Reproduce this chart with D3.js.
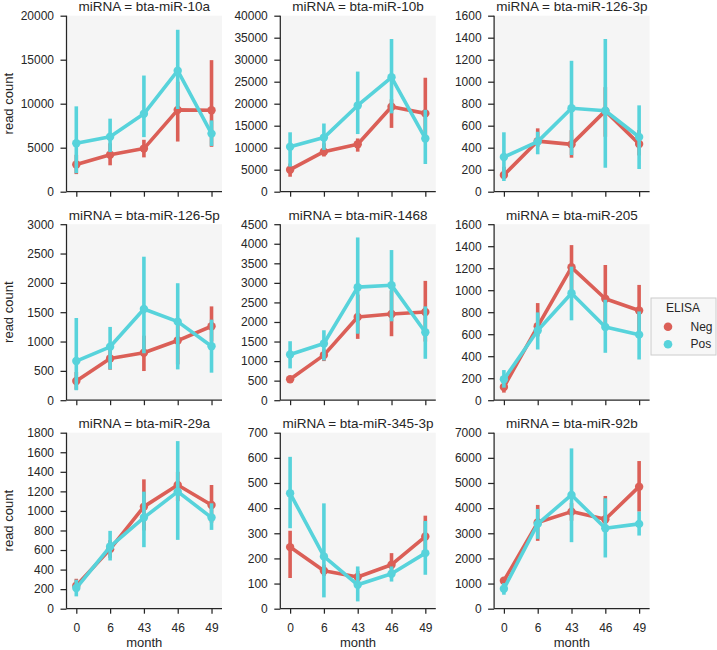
<!DOCTYPE html>
<html><head><meta charset="utf-8">
<script src="https://cdn.jsdelivr.net/npm/d3@7"></script>
<style>
body{margin:0;background:#fff;}
svg text{font-family:"Liberation Sans",Arial,sans-serif;fill:#262626;}
</style>
</head><body><svg id="c" width="717" height="650"></svg>
<script>
const months = ["0", "6", "43", "46", "49"];
const mirnas = ["bta-miR-10a", "bta-miR-10b", "bta-miR-126-3p",
                "bta-miR-126-5p", "bta-miR-1468", "bta-miR-205",
                "bta-miR-29a", "bta-miR-345-3p", "bta-miR-92b"];
const hueLevels = ["Neg", "Pos"];
const hueColors = ["#db5f57", "#57d3db"];
const yMax  = [20000, 40000, 1600, 3000, 4500, 1600, 1800, 700, 7000];
const yStep = [5000, 5000, 200, 500, 500, 200, 200, 100, 1000];

const negMean = [
  [3100, 4200, 4900, 9300, 9250],
  [5000, 9100, 10800, 19300, 17800],
  [152, 460, 430, 735, 433],
  [328, 712, 808, 1017, 1260],
  [534, 1153, 2127, 2203, 2254],
  [120, 672, 1208, 922, 816],
  [235, 609, 1044, 1265, 1061],
  [245, 151, 126, 175, 287],
  [1111, 3426, 3862, 3558, 4854]
];
const negLo = [
  [2000, 3000, 3900, 5700, 5100],
  [3400, 8000, 9100, 14500, 11700],
  [121, 409, 309, 500, 330],
  [180, 520, 497, 610, 1000],
  [460, 1000, 1568, 1636, 1500],
  [69, 580, 1000, 650, 600],
  [180, 520, 800, 1100, 880],
  [122, 130, 100, 135, 214],
  [950, 2698, 3500, 3200, 3862]
];
const negHi = [
  [4200, 5500, 5900, 12500, 14950],
  [6400, 11000, 12100, 21000, 25900],
  [227, 576, 560, 950, 560],
  [480, 900, 1100, 1380, 1599],
  [610, 1300, 2700, 2800, 3051],
  [200, 883, 1410, 1229, 1048],
  [306, 700, 1323, 1400, 1265],
  [310, 175, 150, 221, 370],
  [1250, 4127, 4200, 4484, 5873]
];
const posMean = [
  [5500, 6250, 8850, 13750, 6600],
  [10200, 12300, 19600, 26000, 12100],
  [315, 455, 758, 736, 497],
  [667, 910, 1554, 1339, 921],
  [1169, 1449, 2890, 2941, 1737],
  [190, 633, 973, 666, 596],
  [211, 636, 932, 1197, 932],
  [459, 208, 95, 139, 221],
  [794, 3373, 4524, 3201, 3373]
];
const posLo = [
  [2100, 4500, 6200, 9400, 5200],
  [5700, 9500, 13100, 17800, 6300],
  [97, 340, 333, 218, 206],
  [170, 525, 800, 525, 469],
  [813, 1017, 1700, 2017, 1059],
  [114, 461, 726, 431, 370],
  [126, 493, 629, 704, 806],
  [320, 45, 29, 108, 135],
  [556, 2778, 2646, 2037, 2910]
];
const posHi = [
  [9700, 8300, 13200, 18400, 8100],
  [13500, 15500, 27300, 34700, 18600],
  [540, 545, 1190, 1388, 785],
  [1401, 1249, 2446, 1994, 1373],
  [1508, 1788, 4161, 3839, 2398],
  [274, 798, 1214, 913, 807],
  [296, 796, 1197, 1714, 1078],
  [604, 419, 168, 168, 349],
  [1018, 3968, 6376, 4392, 3862]
];

const series = [
  {mean: negMean, lo: negLo, hi: negHi},
  {mean: posMean, lo: posLo, hi: posHi}
];

const svg = d3.select("#c");
const W = 155.5, H = 176;
const ink = "#262626";

mirnas.forEach((name, i) => {
  const col = i % 3, row = Math.floor(i / 3);
  const x0 = 66.5 + col * 213.8, y0 = 15.7 + row * 208.5;
  const g = svg.append("g").attr("transform", `translate(${x0},${y0})`);
  g.append("rect").attr("width", W).attr("height", H).attr("fill", "#f5f5f5");

  const x = d3.scaleLinear().domain([-0.29, 4.31]).range([0, W]);
  const y = d3.scaleLinear().domain([0, yMax[i]]).range([H, 0]);
  const idx = d3.range(months.length);

  series.forEach((s, j) => {
    const c = hueColors[j];
    const line = d3.line().x(k => x(k)).y(k => y(s.mean[i][k]));
    g.append("path").attr("d", line(idx)).attr("fill", "none")
      .attr("stroke", c).attr("stroke-width", 3.6).attr("stroke-linejoin", "round");
    g.selectAll(null).data(idx).enter().append("line")
      .attr("x1", k => x(k)).attr("x2", k => x(k))
      .attr("y1", k => y(s.lo[i][k])).attr("y2", k => y(s.hi[i][k]))
      .attr("stroke", c).attr("stroke-width", 3.6);
    g.selectAll(null).data(idx).enter().append("circle")
      .attr("cx", k => x(k)).attr("cy", k => y(s.mean[i][k]))
      .attr("r", 4.2).attr("fill", c);
  });

  const ya = g.append("g").call(
    d3.axisLeft(y).tickValues(d3.range(0, yMax[i] + 1, yStep[i]))
      .tickFormat(d3.format("d")).tickSize(6).tickPadding(6.5).tickSizeOuter(0));
  const xa = g.append("g").attr("transform", `translate(0,${H})`).call(
    d3.axisBottom(x).tickValues(idx).tickFormat(k => row === 2 ? months[k] : "")
      .tickSize(5).tickPadding(9.5).tickSizeOuter(0));
  [ya, xa].forEach(a => {
    a.selectAll("path,line").attr("stroke", ink).attr("stroke-width", 1.25);
    a.selectAll("text").attr("font-size", 12).attr("fill", ink)
      .attr("font-family", '"Liberation Sans",Arial,sans-serif');
  });
  ya.select(".domain").attr("d", `M0,0V${H}`);
  xa.select(".domain").attr("d", `M0,0H${W}`);

  g.append("text").attr("x", W / 2).attr("y", -4.6).attr("text-anchor", "middle")
    .attr("font-size", 13.5).text(`miRNA = ${name}`);

  if (col === 0) {
    g.append("text").attr("transform", `translate(${13 - x0},${H / 2}) rotate(-90)`)
      .attr("text-anchor", "middle").attr("font-size", 13).text("read count");
  }
  if (row === 2) {
    g.append("text").attr("x", W / 2).attr("y", 647 - y0).attr("text-anchor", "middle")
      .attr("font-size", 13).text("month");
  }
});

const lg = svg.append("g");
lg.append("rect").attr("x", 651).attr("y", 298).attr("width", 65).attr("height", 57)
  .attr("fill", "#f7f7f7").attr("stroke", "#cccccc").attr("stroke-width", 1);
lg.append("text").attr("x", 683).attr("y", 312).attr("text-anchor", "middle")
  .attr("font-size", 12).text("ELISA");
hueLevels.forEach((h, j) => {
  lg.append("circle").attr("cx", 668).attr("cy", 326.7 + j * 17.6).attr("r", 4.3)
    .attr("fill", hueColors[j]);
  lg.append("text").attr("x", 690.5).attr("y", 330.8 + j * 17.6)
    .attr("font-size", 12).text(h);
});
</script>
</body></html>
